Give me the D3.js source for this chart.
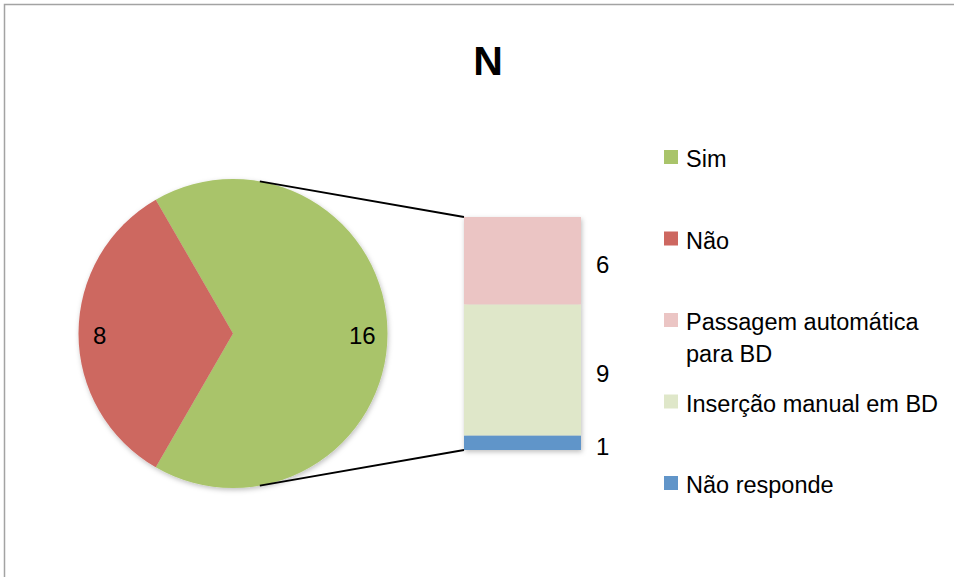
<!DOCTYPE html>
<html lang="pt">
<head>
    <meta charset="UTF-8">
    <title>N</title>
    <script src="https://cdn.jsdelivr.net/npm/d3@7/dist/d3.min.js"></script>
    <style>
        html, body {
            margin: 0;
            padding: 0;
            background: #fff;
        }

        svg text {
            font-family: "Liberation Sans", Arial, sans-serif;
            fill: #000;
        }
    </style>
</head>
<body>
<svg id="chart" width="954" height="577"></svg>
<script>
    // pie: main categories
    var pieLabels = ["Sim", "Não"];
    var pieValues = [16, 8];
    var pieColors = ["#a9c46a", "#cd6760"];

    // bar: breakdown of "Sim" (top to bottom)
    var barLabels = ["Passagem automática para BD", "Inserção manual em BD", "Não responde"];
    var barValues = [6, 9, 1];
    var barColors = ["#ebc5c4", "#dfe7c9", "#6195c9"];

    var title = "N";

    var W = 954, H = 577;
    var svg = d3.select("#chart");

    var defs = svg.append("defs");
    defs.append("filter")
        .attr("id", "shadow")
        .attr("x", "-10%").attr("y", "-10%")
        .attr("width", "130%").attr("height", "130%")
        .append("feDropShadow")
        .attr("dx", 1).attr("dy", 2)
        .attr("stdDeviation", 2.5)
        .attr("flood-color", "#000")
        .attr("flood-opacity", 0.25);

    // frame
    svg.append("rect")
        .attr("x", 4.5).attr("y", 4.5)
        .attr("width", W + 20).attr("height", H + 20)
        .attr("fill", "none")
        .attr("stroke", "#a3a3a3")
        .attr("stroke-width", 1.5);

    svg.append("text")
        .attr("x", 488).attr("y", 75)
        .attr("text-anchor", "middle")
        .style("font-size", "41px")
        .style("font-weight", "bold")
        .text(title);

    // ---- pie ----
    var cx = 233, cy = 333.5, r = 154.5;
    var deg = Math.PI / 180;

    var pie = d3.pie().sort(null)
        .startAngle(-30 * deg)
        .endAngle(330 * deg);
    var arcs = pie(pieValues);

    var arc = d3.arc().innerRadius(0).outerRadius(r);
    var labelArc = d3.arc().innerRadius(r * 0.85).outerRadius(r * 0.85);

    var pieG = svg.append("g").attr("transform", "translate(" + cx + "," + cy + ")");

    pieG.append("g")
        .attr("filter", "url(#shadow)")
        .selectAll("path")
        .data(arcs).enter().append("path")
        .attr("d", arc)
        .attr("fill", function (d, i) {
            return pieColors[i];
        });

    pieG.selectAll("text")
        .data(arcs).enter().append("text")
        .attr("transform", function (d) {
            var c = labelArc.centroid(d);
            return "translate(" + (c[0] - 2) + "," + (c[1] + 10) + ")";
        })
        .attr("text-anchor", "middle")
        .style("font-size", "24px")
        .text(function (d) {
            return d.value;
        });

    // ---- stacked bar ----
    var total = d3.sum(barValues);
    var y = d3.scaleLinear().domain([0, total]).range([450, 217]);
    var x = d3.scaleBand().domain(["Sim"]).range([464, 581]).padding(0);

    // stack from the bottom up
    var row = {};
    barLabels.forEach(function (k, i) {
        row[k] = barValues[i];
    });
    var stack = d3.stack().keys(barLabels.slice().reverse());
    var series = stack([row]);

    var barG = svg.append("g");
    barG.append("g")
        .attr("filter", "url(#shadow)")
        .selectAll("rect")
        .data(series).enter().append("rect")
        .attr("x", x("Sim"))
        .attr("width", x.bandwidth())
        .attr("y", function (s) {
            return y(s[0][1]);
        })
        .attr("height", function (s) {
            return y(s[0][0]) - y(s[0][1]);
        })
        .attr("fill", function (s) {
            return barColors[barLabels.indexOf(s.key)];
        });

    barG.selectAll("text")
        .data(series).enter().append("text")
        .attr("x", x("Sim") + x.bandwidth() + 15)
        .attr("y", function (s) {
            return (y(s[0][0]) + y(s[0][1])) / 2 + 12;
        })
        .style("font-size", "24px")
        .text(function (s) {
            return s[0].data[s.key];
        });

    // connector lines from the pie edge to the bar corners
    var joinAngle = 10 * deg;
    var joins = [
        {a: joinAngle, yv: total},
        {a: Math.PI - joinAngle, yv: 0}
    ];
    svg.selectAll("line.join")
        .data(joins).enter().append("line")
        .attr("class", "join")
        .attr("x1", function (d) {
            return cx + r * Math.sin(d.a);
        })
        .attr("y1", function (d) {
            return cy - r * Math.cos(d.a);
        })
        .attr("x2", x("Sim"))
        .attr("y2", function (d) {
            return y(d.yv);
        })
        .attr("stroke", "#000")
        .attr("stroke-width", 1.8);

    // ---- legend ----
    var legendItems = pieLabels.slice(0, 2).map(function (l, i) {
        return {label: l, color: pieColors[i]};
    }).concat(barLabels.map(function (l, i) {
        return {label: l, color: barColors[i]};
    }));

    var ly = d3.scalePoint()
        .domain(legendItems.map(function (d) {
            return d.label;
        }))
        .range([167, 493]);

    var leg = svg.append("g").selectAll("g")
        .data(legendItems).enter().append("g")
        .attr("transform", function (d) {
            return "translate(664," + ly(d.label) + ")";
        });

    leg.append("rect")
        .attr("x", 0).attr("y", -17)
        .attr("width", 14).attr("height", 14)
        .attr("fill", function (d) {
            return d.color;
        });

    leg.append("text")
        .attr("x", 22).attr("y", 0)
        .style("font-size", "23.5px")
        .each(function (d) {
            var t = d3.select(this);
            var words = d.label.split(" ");
            var line = [];
            var tspan = t.append("tspan").attr("x", 22).attr("dy", 0);
            words.forEach(function (w) {
                line.push(w);
                tspan.text(line.join(" "));
                if (tspan.node().getComputedTextLength() > 262 && line.length > 1) {
                    line.pop();
                    tspan.text(line.join(" "));
                    line = [w];
                    tspan = t.append("tspan").attr("x", 22).attr("dy", 32).text(w);
                }
            });
        });
</script>
</body>
</html>
